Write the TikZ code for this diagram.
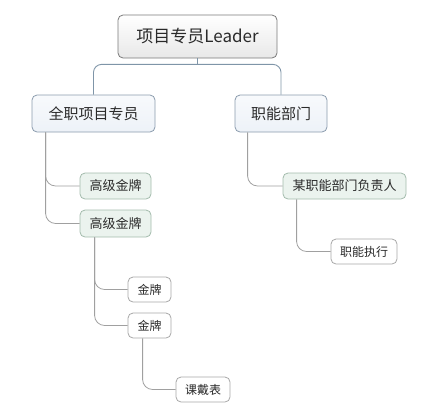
\documentclass[tikz,border=0pt]{standalone}
\usepackage{fontspec}
\setmainfont{Noto Sans CJK SC}
\usetikzlibrary{calc}
\definecolor{txt}{HTML}{2A2A2A}
\definecolor{bluebd}{HTML}{8A9BAD}
\definecolor{bluefill}{HTML}{EDF2F8}
\definecolor{greenbd}{HTML}{A3BBAC}
\definecolor{greenfill}{HTML}{EBF3EE}
\definecolor{graybd}{HTML}{A8A8A8}
\definecolor{rootbd}{HTML}{7A7A7A}
\definecolor{toplink}{HTML}{7F95A8}
\definecolor{link}{HTML}{A0A0A0}
\tikzset{
  box/.style={draw, rounded corners=5pt, inner sep=0pt, text=txt, line width=0.8pt},
  rootbox/.style={box, draw=rootbd, top color=white, bottom color=black!9, minimum width=159pt, minimum height=43pt, font=\fontsize{17}{20}\selectfont},
  lvlone/.style={box, draw=bluebd, top color=white!60!bluefill, bottom color=bluefill, minimum height=37pt, font=\fontsize{15}{18}\selectfont},
  lvltwo/.style={box, draw=greenbd, fill=greenfill, minimum height=26pt, font=\fontsize{13}{15}\selectfont},
  lvlthree/.style={box, draw=graybd, fill=white, minimum height=25pt, font=\fontsize{12}{14}\selectfont},
  toplinkstyle/.style={draw=toplink, line width=0.9pt, rounded corners=8pt},
  linkstyle/.style={draw=link, line width=0.8pt, rounded corners=10pt},
}
\begin{document}
\begin{tikzpicture}[x=1pt,y=-1pt]
\useasboundingbox (0,0) rectangle (441,408);
\node[rootbox] (root) at (197.5,36.5) {项目专员Leader};
\node[lvlone, minimum width=123pt] (c1) at (93.5,113.5) {全职项目专员};
\node[lvlone, minimum width=92pt] (c2) at (281,113.5) {职能部门};
\node[lvltwo, minimum width=71pt] (g1) at (115.5,186) {高级金牌};
\node[lvltwo, minimum width=71pt, minimum height=27pt] (g2) at (115.5,223.5) {高级金牌};
\node[lvltwo, minimum width=123pt] (r1) at (344.5,186) {某职能部门负责人};
\node[lvlthree, minimum width=66pt] (r2) at (364,251.5) {职能执行};
\node[lvlthree, minimum width=43pt] (j1) at (149.5,289.5) {金牌};
\node[lvlthree, minimum width=43pt] (j2) at (149.5,325.5) {金牌};
\node[lvlthree, minimum width=54pt] (k) at (203,389.5) {课戴表};
\coordinate (bus) at ($(root.south)+(0,6)$);
\draw[toplinkstyle] (root.south) -- (bus);
\draw[toplinkstyle] (c1.north) |- (bus) -| (c2.north);
\draw[linkstyle] ($(c1.south west)+(14,0)$) |- (g1.west);
\draw[linkstyle] ($(c1.south west)+(14,0)$) |- (g2.west);
\draw[linkstyle] ($(c2.south west)+(13,0)$) |- (r1.west);
\draw[linkstyle] ($(r1.south west)+(14,0)$) |- (r2.west);
\draw[linkstyle] ($(g2.south west)+(15,0)$) |- (j1.west);
\draw[linkstyle] ($(g2.south west)+(15,0)$) |- (j2.west);
\draw[linkstyle] ($(j2.south west)+(15,0)$) |- (k.west);
\end{tikzpicture}
\end{document}
